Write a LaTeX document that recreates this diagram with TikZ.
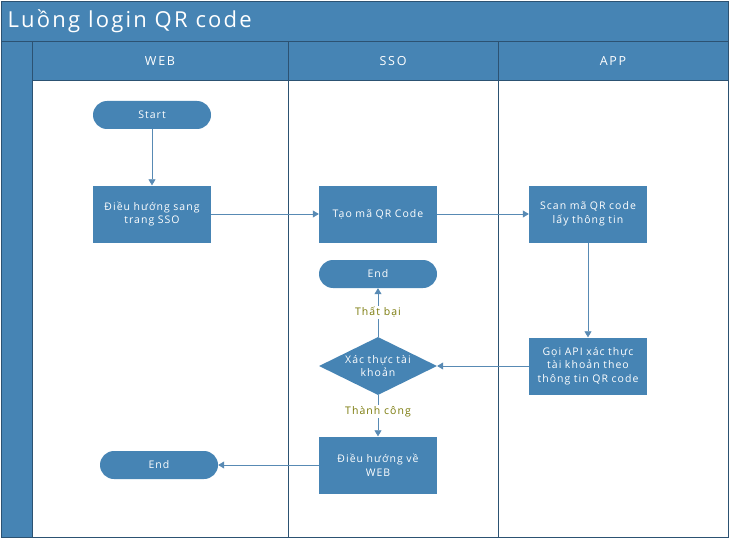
\documentclass[tikz,border=0pt]{standalone}
\usepackage{fontspec}
\setmainfont{Open Sans}[LetterSpace=10]
\usetikzlibrary{shapes.geometric,arrows.meta}
\definecolor{LaneBlue}{RGB}{70,132,180}
\definecolor{LaneLine}{RGB}{44,82,114}
\definecolor{FlowArrow}{RGB}{88,138,180}
\definecolor{FlowLabel}{RGB}{122,122,10}

\begin{document}
\begin{tikzpicture}[x=1pt,y=-1pt,font=\fontsize{10.5}{13.5}\selectfont,
  lane/.style={draw=LaneLine,line width=0.8pt},
  hdr/.style={lane,fill=LaneBlue},
  step box/.style={fill=LaneBlue,text=white,minimum width=118pt,minimum height=57pt,align=center,text width=116pt,inner sep=0pt},
  term/.style={fill=LaneBlue,text=white,minimum width=118pt,minimum height=28pt,rounded corners=14pt,inner sep=0pt},
  dec/.style={diamond,fill=LaneBlue,text=white,aspect=2,minimum width=118pt,minimum height=58pt,inner xsep=0pt,inner ysep=-5pt,align=center,text width=72pt},
  flow/.style={draw=FlowArrow,line width=0.6pt,-{Triangle[length=6pt,width=7pt]}},
  lbl/.style={fill=white,text=FlowLabel,inner sep=1pt}]
\useasboundingbox (0,0) rectangle (730,540);
% swimlane frame
\fill[white] (1,1) rectangle (728,537);
\draw[hdr] (1,1) rectangle (728,41);
\draw[hdr] (1,41) rectangle (32,537);
\draw[lane] (32,41) rectangle (728,537);
\foreach \xa/\xb/\name in {32/288/WEB,288/498/SSO,498/728/APP} {
   \draw[hdr] (\xa,41) rectangle (\xb,80);
   \node[text=white,font=\fontsize{12.5}{15}\selectfont\addfontfeatures{LetterSpace=14}] at ({(\xa+\xb)/2},61) {\name};
   \draw[lane] (\xa,80) -- (\xa,537);
}
\node[anchor=west,text=white,font=\fontsize{22}{26}\selectfont] (title) at (4,21) {Luồng login QR code};

\node[term] (start) at (152,115) {Start};
\node[step box] (dieuhuong) at (152,214) {Điều hướng sang\\trang SSO};
\node[step box] (taoma) at (378,214) {Tạo mã QR Code};
\node[step box] (scan) at (588,214) {Scan mã QR code\\lấy thông tin};
\node[term] (endsso) at (378,274) {End};
\node[dec] (xacthuc) at (378,366) {Xác thực tài\\khoản};
\node[step box] (goiapi) at (588,366) {Gọi API xác thực\\tài khoản theo\\thông tin QR code};
\node[step box] (vewEB) at (378,465) {Điều hướng về\\WEB};
\node[term] (endweb) at (159,465) {End};

\draw[flow] (start) -- (dieuhuong);
\draw[flow] (dieuhuong) -- (taoma);
\draw[flow] (taoma) -- (scan);
\draw[flow] (scan) -- (goiapi);
\draw[flow] (goiapi) -- (xacthuc);
\draw[flow] (xacthuc) -- node[lbl] {Thất bại} (endsso);
\draw[flow] (xacthuc) -- node[lbl,pos=0.4] {Thành công} (vewEB);
\draw[flow] (vewEB) -- (endweb);
\end{tikzpicture}
\end{document}
